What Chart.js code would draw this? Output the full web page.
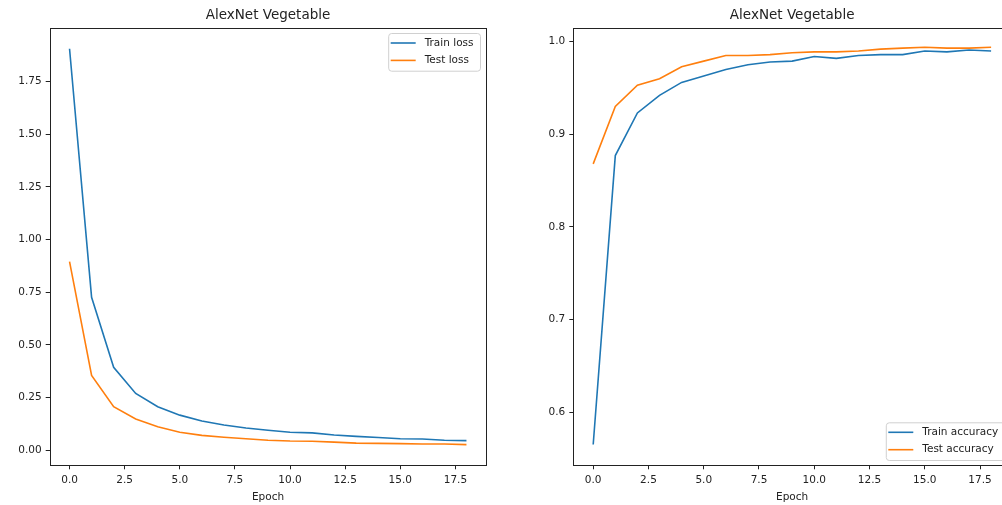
<!DOCTYPE html>
<html>
<head>
<meta charset="utf-8">
<script src="https://cdn.jsdelivr.net/npm/chart.js@4"></script>
<style>
  html, body { margin: 0; padding: 0; background: #fff; overflow: hidden; width: 1002px; height: 505px; }
  canvas { position: absolute; top: 0; }
  #lossChart { left: 0; }
  #accChart { left: 520px; }
</style>
</head>
<body>
<canvas id="lossChart" width="500" height="505"></canvas>
<canvas id="accChart" width="500" height="505"></canvas>
<script>
// values
const epochs = [0, 1, 2, 3, 4, 5, 6, 7, 8, 9, 10, 11, 12, 13, 14, 15, 16, 17, 18];
const trainLoss = [1.905, 0.726, 0.394, 0.270, 0.207, 0.167, 0.139, 0.120, 0.106, 0.095, 0.086, 0.083, 0.073, 0.066, 0.061, 0.055, 0.054, 0.048, 0.046];
const testLoss = [0.895, 0.355, 0.207, 0.149, 0.112, 0.086, 0.071, 0.062, 0.055, 0.048, 0.044, 0.043, 0.039, 0.034, 0.033, 0.032, 0.030, 0.030, 0.027];
const trainAcc = [0.565, 0.877, 0.923, 0.942, 0.956, 0.963, 0.970, 0.975, 0.978, 0.979, 0.984, 0.982, 0.985, 0.986, 0.986, 0.990, 0.989, 0.991, 0.990];
const testAcc = [0.868, 0.930, 0.953, 0.960, 0.973, 0.979, 0.985, 0.985, 0.986, 0.988, 0.989, 0.989, 0.990, 0.992, 0.993, 0.994, 0.993, 0.993, 0.994];
const xTicks = [0, 2.5, 5, 7.5, 10, 12.5, 15, 17.5];
const lossTicks = [0, 0.25, 0.5, 0.75, 1.0, 1.25, 1.5, 1.75];
const accTicks = [0.6, 0.7, 0.8, 0.9, 1.0];

const BLUE = '#1f77b4';
const ORANGE = '#ff7f0e';
const INK = '#222';
const FONT = 'DejaVu Sans';

// matplotlib style frame around the plot area
const axesBox = {
  id: 'axesBox',
  afterDatasetsDraw(chart) {
    const a = chart.chartArea;
    const ctx = chart.ctx;
    ctx.save();
    ctx.strokeStyle = INK;
    ctx.lineWidth = 1;
    ctx.strokeRect(Math.round(a.left) + 0.5, Math.round(a.top) + 0.5,
      Math.round(a.right - a.left) - 1, Math.round(a.bottom - a.top) - 1);
    ctx.restore();
  },
};

// legend drawn inside the axes, with a rounded frame
const boxLegend = {
  id: 'boxLegend',
  afterDraw(chart, args, opts) {
    const a = chart.chartArea;
    const ctx = chart.ctx;
    const sets = chart.data.datasets;
    ctx.save();
    ctx.font = '10.5px "' + FONT + '"';
    let textW = 0;
    sets.forEach((d) => { textW = Math.max(textW, ctx.measureText(d.label).width); });
    const w = 2.5 + 25 + 9 + textW + 6.5;
    const h = 37.7;
    const right = a.right - 6.3;
    const left = right - w;
    const top = opts.corner === 'top' ? a.top + 5.3 : a.bottom - 5.3 - h;
    ctx.fillStyle = 'rgba(255,255,255,0.8)';
    ctx.strokeStyle = '#d0d0d0';
    ctx.lineWidth = 1;
    ctx.beginPath();
    ctx.roundRect(left + 0.5, top + 0.5, w, h, 3);
    ctx.fill();
    ctx.stroke();
    sets.forEach((d, i) => {
      const y = top + 10 + i * 17.4;
      ctx.strokeStyle = d.borderColor;
      ctx.lineWidth = 1.6;
      ctx.beginPath();
      ctx.moveTo(left + 2.5, y);
      ctx.lineTo(left + 27.5, y);
      ctx.stroke();
      ctx.fillStyle = INK;
      ctx.textBaseline = 'middle';
      ctx.fillText(d.label, left + 36.5, y);
    });
    ctx.restore();
  },
};

function points(values) {
  return values.map((v, i) => ({ x: epochs[i], y: v }));
}

function makeChart(id, series, yTicks, yMin, yMax, decimals, corner, yWidth, padRight) {
  return new Chart(document.getElementById(id), {
    type: 'line',
    data: {
      datasets: series.map((s) => ({
        label: s.label,
        data: points(s.values),
        borderColor: s.color,
        backgroundColor: s.color,
        borderWidth: 1.6,
        pointRadius: 0,
        tension: 0,
      })),
    },
    options: {
      responsive: false,
      animation: false,
      devicePixelRatio: 1,
      layout: { padding: { left: 0, right: padRight, top: 0, bottom: 0 } },
      plugins: {
        legend: { display: false },
        tooltip: { enabled: false },
        boxLegend: { corner: corner },
        title: {
          display: true,
          text: 'AlexNet Vegetable',
          fullSize: false,
          color: INK,
          font: { family: FONT, size: 13.5, weight: 'normal', lineHeight: 1.2 },
          padding: { top: 7.5, bottom: 4 },
        },
      },
      scales: {
        x: {
          type: 'linear',
          min: -0.9,
          max: 18.9,
          afterBuildTicks: (scale) => { scale.ticks = xTicks.map((v) => ({ value: v })); },
          afterFit: (scale) => { scale.height = 39.7; },
          grid: { drawOnChartArea: false, drawTicks: true, tickLength: 4, color: INK },
          border: { display: false },
          ticks: {
            color: INK,
            padding: 5,
            maxRotation: 0,
            autoSkip: false,
            font: { family: FONT, size: 10.5 },
            callback: (v) => Number(v).toFixed(1),
          },
          title: {
            display: true,
            text: 'Epoch',
            color: INK,
            font: { family: FONT, size: 10.5 },
            padding: { top: 0, bottom: 1.5 },
          },
        },
        y: {
          min: yMin,
          max: yMax,
          afterBuildTicks: (scale) => { scale.ticks = yTicks.map((v) => ({ value: v })); },
          afterFit: (scale) => { scale.width = yWidth; },
          grid: { drawOnChartArea: false, drawTicks: true, tickLength: 4, color: INK },
          border: { display: false },
          ticks: {
            color: INK,
            padding: 4,
            autoSkip: false,
            font: { family: FONT, size: 10.5 },
            callback: (v) => Number(v).toFixed(decimals),
          },
        },
      },
    },
    plugins: [axesBox, boxLegend],
  });
}

makeChart('lossChart', [
  { label: 'Train loss', values: trainLoss, color: BLUE },
  { label: 'Test loss', values: testLoss, color: ORANGE },
], lossTicks, -0.071, 2.005, 2, 'top', 49.7, 13.7);

makeChart('accChart', [
  { label: 'Train accuracy', values: trainAcc, color: BLUE },
  { label: 'Test accuracy', values: testAcc, color: ORANGE },
], accTicks, 0.5425, 1.0151, 1, 'bottom', 53.3, 9);
</script>
</body>
</html>
